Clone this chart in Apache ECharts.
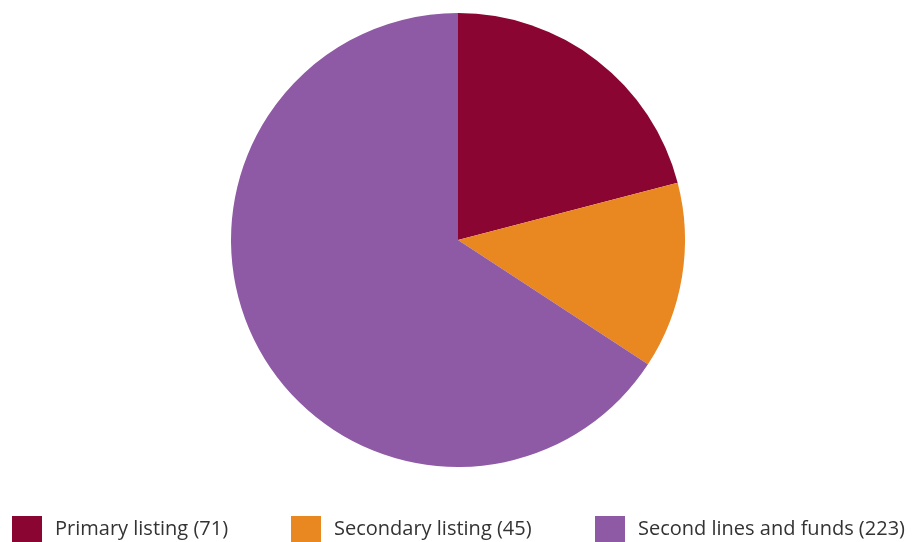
<!DOCTYPE html>
<html>
<head>
<meta charset="utf-8">
<script src="https://cdn.jsdelivr.net/npm/echarts@6/dist/echarts.min.js"></script>
<style>html,body{margin:0;padding:0;background:#fff;}#c{width:916px;height:542px;}</style>
</head>
<body>
<div id="c"></div>
<script>
const categories = ['Primary listing (71)', 'Secondary listing (45)', 'Second lines and funds (223)'];
const values = [71, 45, 223];
const colors = ['#8A0531', '#E98720', '#8E5AA5'];

const chart = echarts.init(document.getElementById('c'), null, {renderer: 'canvas'});
const legendLefts = [12, 291, 595];
const legends = categories.map((name, i) => ({
  data: [name],
  left: legendLefts[i],
  top: 516,
  padding: 0,
  icon: 'rect',
  itemWidth: 30,
  itemHeight: 26,
  selectedMode: false,
  textStyle: {fontFamily: 'Open Sans', fontSize: 20, color: '#333', padding: [2, 0, 0, 8]}
}));
chart.setOption({
  animation: false,
  color: colors,
  legend: legends,
  series: [{
    type: 'pie',
    center: [458, 240],
    radius: 227,
    startAngle: 90,
    clockwise: true,
    silent: true,
    label: {show: false},
    labelLine: {show: false},
    itemStyle: {borderWidth: 0},
    data: categories.map((n, i) => ({name: n, value: values[i]}))
  }]
});
</script>
</body>
</html>
